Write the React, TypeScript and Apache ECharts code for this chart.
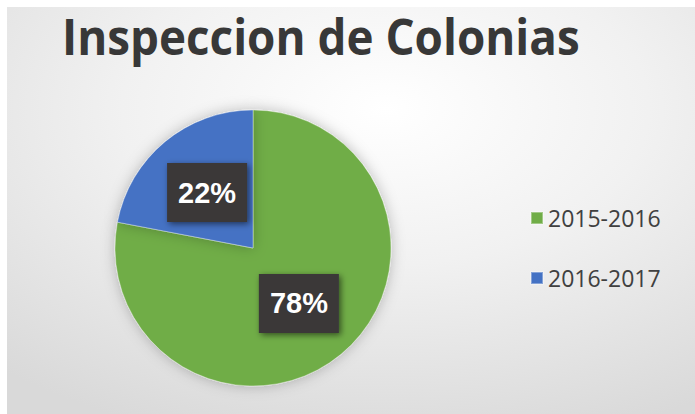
import React, { useEffect, useRef } from "react";
import * as echarts from "echarts";

const categories = ["2015-2016", "2016-2017"];
const values = [78, 22];
const colors = ["#70ad47", "#4472c4"];
const titleText = "Inspeccion de Colonias";

export default function App() {
  const ref = useRef<HTMLDivElement>(null);
  useEffect(() => {
    if (!ref.current) return;
    const chart = echarts.init(ref.current, undefined, { renderer: "svg" });
    const titleFont = 'bold 50px "Open Sans"';
    let scaleX = 0.78;
    try {
      const c = document.createElement("canvas").getContext("2d");
      if (c) {
        c.font = titleFont;
        const w = c.measureText(titleText).width;
        if (w > 0) scaleX = 518 / w;
      }
    } catch (e) {}
    chart.setOption({
      animation: false,
      backgroundColor: "#ffffff",
      graphic: [
        {
          type: "rect",
          z: -10,
          shape: { x: 7, y: 7, width: 688, height: 407 },
          style: {
            fill: new echarts.graphic.RadialGradient(0.55, 0.25, 0.85, [
              { offset: 0, color: "#ffffff" },
              { offset: 0.45, color: "#f1f1f1" },
              { offset: 1, color: "#d9d9d9" },
            ]),
          },
        },
        {
          type: "text",
          x: 62,
          y: 11,
          scaleX: scaleX,
          style: {
            text: titleText,
            font: titleFont,
            fill: "#383838",
          },
        },
      ],
      legend: {
        orient: "vertical",
        left: 530,
        top: 206,
        padding: 0,
        itemWidth: 12,
        itemHeight: 12,
        itemGap: 36,
        icon: "rect",
        data: categories,
        textStyle: {
          fontFamily: "Open Sans",
          fontSize: 23,
          lineHeight: 24,
          color: "#404040",
        },
      },
      series: [
        {
          type: "pie",
          center: [253, 248],
          radius: 138,
          startAngle: 90,
          clockwise: true,
          data: categories.map((name, i) => ({
            name,
            value: values[i],
            itemStyle: { color: colors[i] },
          })),
          itemStyle: {
            borderColor: "rgba(255,255,255,0.35)",
            borderWidth: 1,
            shadowBlur: 14,
            shadowColor: "rgba(0,0,0,0.25)",
          },
          label: {
            show: true,
            position: "inside",
            formatter: "{d}%",
            color: "#ffffff",
            fontFamily: "Liberation Sans",
            fontWeight: "bold",
            fontSize: 29,
            lineHeight: 35,
            backgroundColor: "#3b3939",
            padding: [12, 11],
            shadowBlur: 6,
            shadowColor: "rgba(0,0,0,0.55)",
            shadowOffsetX: 2,
            shadowOffsetY: 2,
          },
          labelLine: { show: false },
          emphasis: { disabled: true },
        },
      ],
    });
    return () => chart.dispose();
  }, []);
  return (
    <div
      ref={ref}
      style={{ position: "fixed", left: 0, top: 0, width: 695, height: 414 }}
    />
  );
}
